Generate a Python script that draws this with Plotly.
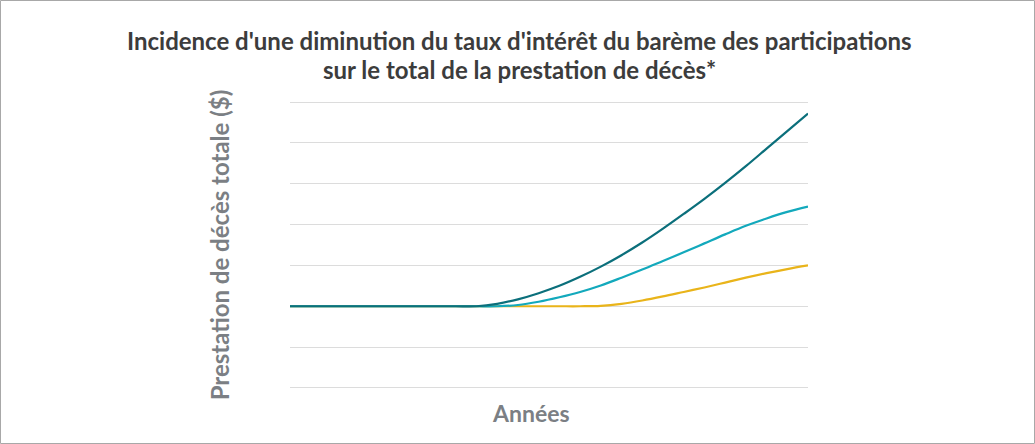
import plotly.graph_objects as go

# Years since the policy start (unlabelled on the axis)
years = list(range(0, 26))

# Total death benefit under the current dividend scale interest rate
current_rate = [2.0] * 10 + [2.06, 2.17, 2.32, 2.50, 2.72, 2.97, 3.25, 3.56, 3.90,
                             4.26, 4.63, 5.02, 5.43, 5.86, 6.29, 6.72]
# Benefit after a moderate decrease of the interest rate
moderate_drop = [2.0] * 11 + [2.03, 2.11, 2.22, 2.35, 2.51, 2.70, 2.90, 3.11, 3.32,
                              3.54, 3.76, 3.97, 4.15, 4.31, 4.44]
# Benefit after a larger decrease of the interest rate
larger_drop = [2.0] * 15 + [2.01, 2.06, 2.14, 2.24, 2.35, 2.46, 2.58, 2.70, 2.81,
                            2.91, 3.00]

series = [
    ("Taux actuel", current_rate, "#0b6f7b"),
    ("Diminution modérée", moderate_drop, "#13a9bc"),
    ("Diminution importante", larger_drop, "#e9b41a"),
]

title_lines = [
    "Incidence d'une diminution du taux d'intérêt du barème des participations",
    "sur le total de la prestation de décès*",
]

fig = go.Figure()
# lowest curve first so the shared flat segment shows the dark teal on top
for name, vals, color in reversed(series):
    fig.add_trace(go.Scatter(
        x=years, y=vals, mode="lines", name=name,
        line=dict(color=color, width=2.2, shape="spline", smoothing=1.0),
        hoverinfo="skip",
    ))

PLOT_TOP, PLOT_H = 98, 294

def paper_y(py):
    return 1 + (PLOT_TOP - py) / PLOT_H

annotations = []
for text, py in zip(title_lines, [40, 70]):
    annotations.append(dict(
        text=f"<b>{text}</b>", xref="paper", yref="paper",
        x=(519 - 290) / 518, y=paper_y(py), xanchor="center", yanchor="middle",
        showarrow=False, font=dict(family="Lato", size=24, color="#3c3c3c"),
    ))
annotations.append(dict(
    text="<b>Années</b>", xref="paper", yref="paper",
    x=(531 - 290) / 518, y=paper_y(413), xanchor="center", yanchor="middle",
    showarrow=False, font=dict(family="Lato", size=23, color="#7b7f84"),
))

fig.update_layout(
    width=1035, height=444,
    margin=dict(l=290, r=227, t=PLOT_TOP, b=444 - PLOT_TOP - PLOT_H),
    paper_bgcolor="white", plot_bgcolor="white",
    showlegend=False,
    font=dict(family="Lato, 'Open Sans', sans-serif"),
    xaxis=dict(
        range=[0, 25], showgrid=False, zeroline=False, showline=False,
        showticklabels=False, ticks="",
    ),
    yaxis=dict(
        range=[-0.1, 7.1], tickvals=list(range(0, 8)),
        showgrid=True, gridcolor="#dcdcdc", gridwidth=1,
        zeroline=False, showline=False, showticklabels=False, ticks="",
        title=dict(text="<b>Prestation de décès totale ($)</b>", standoff=52,
                   font=dict(family="Lato", size=24, color="#7b7f84")),
    ),
    annotations=annotations,
)

# thin frame around the whole figure
fig.add_shape(type="rect", xref="paper", yref="paper",
              x0=(0.5 - 290) / 518, x1=(1034.5 - 290) / 518,
              y0=paper_y(443.5), y1=paper_y(0.5),
              line=dict(color="#a8a8a8", width=1), layer="above")

fig.write_html("out.html")
